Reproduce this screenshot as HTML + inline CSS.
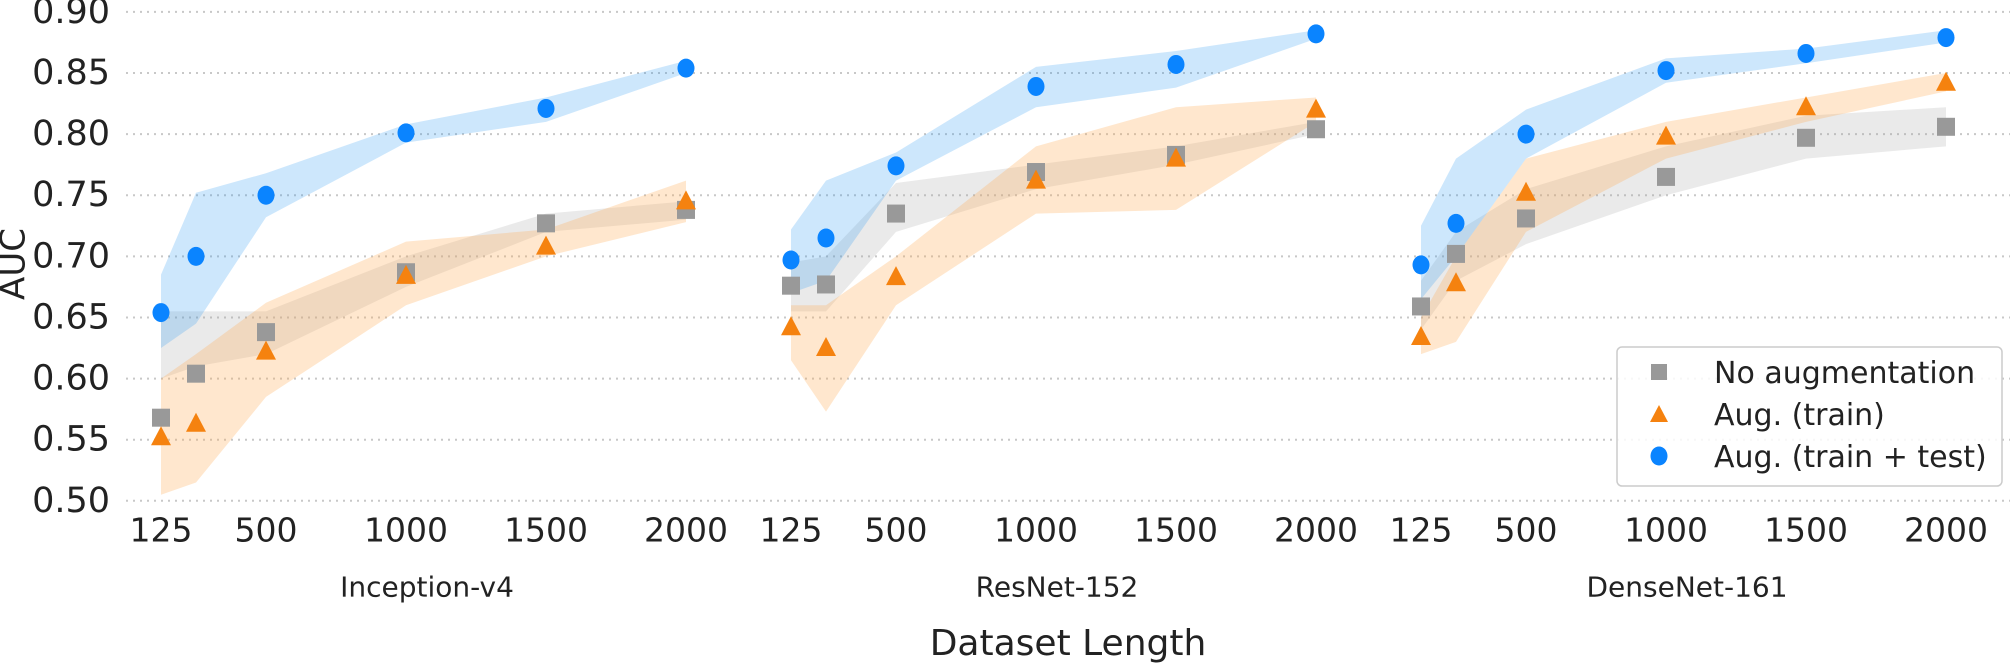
<!DOCTYPE html>
<html><head><meta charset="utf-8"><style>
html,body{margin:0;padding:0;background:#fff;}
svg{display:block;font-family:"DejaVu Sans","Liberation Sans",sans-serif;}
</style></head><body>
<svg id="chart" width="2016" height="665" viewBox="0 0 2016 665" xmlns="http://www.w3.org/2000/svg">
<g id="grid"></g>
<g id="bands"></g>
<g id="marks"></g>
<g id="axes"></g>
<text x="0" y="0" transform="translate(15,264) rotate(-90)" font-size="34" text-anchor="middle" fill="#222" dominant-baseline="middle">AUC</text>
<text x="1068" y="655" font-size="36" text-anchor="middle" fill="#222">Dataset Length</text>
<g>
<rect x="1617" y="347" width="385" height="139" rx="5" fill="#fff" fill-opacity="0.85" stroke="#ccc" stroke-width="1.5"/>
<rect x="1651" y="364" width="16" height="16" fill="#999"/>
<text x="1714" y="383" font-size="30" fill="#222">No augmentation</text>
<polygon points="1659,405 1668,422 1650,422" fill="#f5820f"/>
<text x="1714" y="425" font-size="30" fill="#222">Aug. (train)</text>
<ellipse cx="1659" cy="456" rx="8.5" ry="9.5" fill="#0a84ff"/>
<text x="1714" y="467" font-size="30" fill="#222">Aug. (train + test)</text>
</g>
</svg>
<script>
const panels = ["Inception-v4", "ResNet-152", "DenseNet-161"];
const xValues = [125, 250, 500, 1000, 1500, 2000];
const xTicks = [125, 500, 1000, 1500, 2000];
const yTicks = [0.50, 0.55, 0.60, 0.65, 0.70, 0.75, 0.80, 0.85, 0.90];
const yTickLabels = ["0.50","0.55","0.60","0.65","0.70","0.75","0.80","0.85","0.90"];
const noAug = [
  [0.568, 0.604, 0.638, 0.687, 0.727, 0.738],
  [0.676, 0.677, 0.735, 0.769, 0.783, 0.804],
  [0.659, 0.702, 0.731, 0.765, 0.797, 0.806]];
const noAugLo = [
  [0.600, 0.610, 0.620, 0.675, 0.720, 0.730],
  [0.655, 0.655, 0.720, 0.755, 0.775, 0.800],
  [0.640, 0.680, 0.710, 0.750, 0.780, 0.790]];
const noAugHi = [
  [0.655, 0.655, 0.655, 0.700, 0.735, 0.745],
  [0.695, 0.700, 0.760, 0.775, 0.790, 0.810],
  [0.680, 0.720, 0.755, 0.790, 0.815, 0.822]];
const train = [
  [0.552, 0.563, 0.622, 0.684, 0.708, 0.745],
  [0.642, 0.625, 0.683, 0.762, 0.780, 0.820],
  [0.634, 0.678, 0.752, 0.798, 0.822, 0.842]];
const trainLo = [
  [0.505, 0.515, 0.585, 0.660, 0.700, 0.728],
  [0.615, 0.573, 0.660, 0.735, 0.738, 0.810],
  [0.620, 0.630, 0.720, 0.780, 0.810, 0.835]];
const trainHi = [
  [0.600, 0.620, 0.662, 0.712, 0.722, 0.762],
  [0.660, 0.660, 0.700, 0.790, 0.822, 0.830],
  [0.650, 0.700, 0.780, 0.810, 0.830, 0.850]];
const test = [
  [0.654, 0.700, 0.750, 0.801, 0.821, 0.854],
  [0.697, 0.715, 0.774, 0.839, 0.857, 0.882],
  [0.693, 0.727, 0.800, 0.852, 0.866, 0.879]];
const testLo = [
  [0.625, 0.645, 0.732, 0.793, 0.810, 0.850],
  [0.670, 0.680, 0.762, 0.822, 0.838, 0.878],
  [0.665, 0.700, 0.780, 0.842, 0.858, 0.875]];
const testHi = [
  [0.685, 0.752, 0.768, 0.808, 0.830, 0.860],
  [0.722, 0.762, 0.785, 0.855, 0.868, 0.885],
  [0.725, 0.780, 0.820, 0.862, 0.870, 0.885]];

const NS = "http://www.w3.org/2000/svg";
const panelOffset = 630, px0 = 126, pxScale = 0.28;
function xs(p, v){ return px0 + p*panelOffset + v*pxScale; }
function ys(v){ return 11.9 + (0.9 - v)/0.4*488.9; }
function mk(tag, attrs, parent){ const e=document.createElementNS(NS,tag); for(const k in attrs) e.setAttribute(k,attrs[k]); parent.appendChild(e); return e; }
const grid=document.getElementById('grid'), bands=document.getElementById('bands'), marks=document.getElementById('marks'), axes=document.getElementById('axes');

yTicks.forEach((t,i)=>{
  const l=mk('line',{x1:126,x2:2010,y1:ys(t),y2:ys(t),stroke:'#c8c8c8','stroke-width':2,'stroke-dasharray':'2,5'},grid);
  
  
  const tx=mk('text',{x:110,y:ys(t),'font-size':35,'text-anchor':'end','dominant-baseline':'central',fill:'#222'},axes);
  tx.textContent=yTickLabels[i];
  
  
});

function band(p, lo, hi, color, name){
  let pts=[];
  xValues.forEach((x,i)=>pts.push(xs(p,x)+','+ys(hi[p][i])));
  for(let i=xValues.length-1;i>=0;i--) pts.push(xs(p,xValues[i])+','+ys(lo[p][i]));
  const g=mk('polygon',{points:pts.join(' '),fill:color},bands);
  
  
}

panels.forEach((name,p)=>{
  band(p,noAugLo,noAugHi,'rgba(160,160,160,0.22)','band-no-aug');
  band(p,trainLo,trainHi,'rgba(255,170,80,0.28)','band-train');
  band(p,testLo,testHi,'rgba(40,150,240,0.23)','band-test');
  xValues.forEach((x,i)=>{
    const cx=xs(p,x);
    let y=ys(noAug[p][i]);
    const s=mk('rect',{x:cx-9,y:y-9,width:18,height:18,fill:'#999'},marks);
    
    
    y=ys(train[p][i]);
    const t=mk('polygon',{points:`${cx},${y-11} ${cx+10},${y+8} ${cx-10},${y+8}`,fill:'#f5820f'},marks);
    
    
    y=ys(test[p][i]);
    const c=mk('ellipse',{cx:cx,cy:y,rx:8.5,ry:9.5,fill:'#0a84ff'},marks);
    
    
  });
  xTicks.forEach(t=>{
    const tx=mk('text',{x:xs(p,t),y:530,'font-size':33,'text-anchor':'middle','dominant-baseline':'central',fill:'#222'},axes);
    tx.textContent=String(t);
    
    
  });
  const pl=mk('text',{x:xs(p,1075),y:587,'font-size':28,'text-anchor':'middle','dominant-baseline':'central',fill:'#222'},axes);
  pl.textContent=name;
  
  
});
</script>
</body></html>
